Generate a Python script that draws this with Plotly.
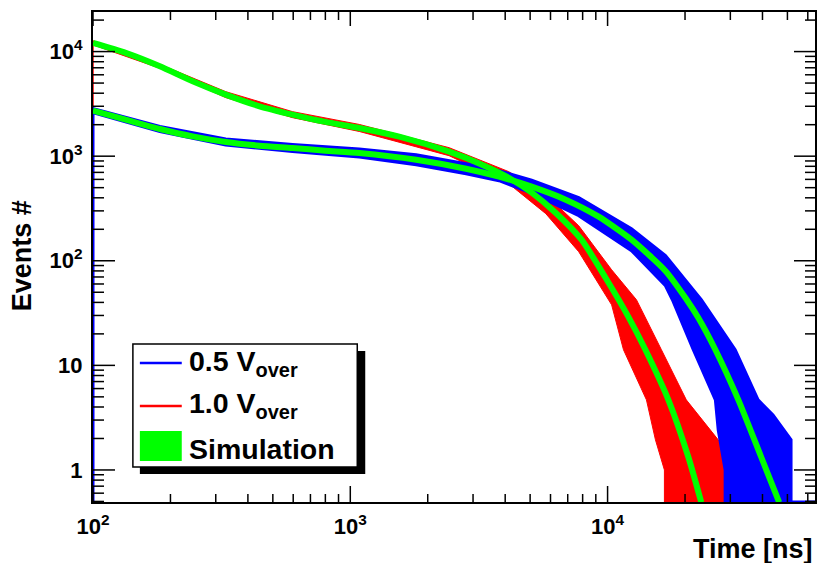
import math
import plotly.graph_objects as go

# ---------------- data ----------------
# Simulation curves (green)
sim_05_t = [100, 134, 182, 244, 328, 444, 596, 800, 1084, 1803, 2818, 3784, 5070,
            6870, 9230, 12390, 16790, 20060, 22520, 26240, 32230, 39540, 46450]
sim_05_n = [2725, 2234, 1820, 1546, 1367, 1260, 1197, 1129, 1073, 926, 759, 637, 511,
            384, 264, 159, 80, 44.3, 28.5, 14.1, 4.68, 1.33, 0.49]

sim_10_t = [100, 134, 182, 244, 328, 444, 596, 800, 1084, 1549, 2421, 3251, 4130,
            5070, 6280, 7920, 9820, 12050, 14030, 17230, 20600, 23130]
sim_10_n = [12110, 9720, 7230, 5200, 3880, 3000, 2497, 2125, 1862, 1537, 1105, 830, 622,
            448, 288, 159, 68.8, 29.1, 14.1, 4.68, 1.33, 0.49]

# Measured histograms: upper / lower envelope of the bin contents
red_up_t = [100, 182, 328, 596, 1084, 2421, 4130, 5754, 7726, 10370, 12950, 16190,
            20230, 26920, 30240]
red_up_n = [12680, 7550, 4141, 2666, 2011, 1206, 711, 428, 216, 82, 42.4, 14.1,
            4.68, 1.94, 1.0]
red_lo_t = [100, 182, 328, 596, 1084, 2421, 4130, 5754, 7726, 10370, 11530, 14160,
            15350, 16630]
red_lo_n = [11590, 6920, 3629, 2336, 1723, 1011, 546, 282, 122, 37.9, 14.1, 4.68,
            1.94, 1.0]

blue_up_t = [100, 182, 328, 596, 1084, 1803, 2818, 3784, 5070, 7726, 12390, 16790,
             23130, 31330, 38460, 43950, 51650]
blue_up_n = [2848, 1924, 1461, 1294, 1172, 1034, 848, 726, 589, 401, 202, 112,
             42.4, 14.1, 4.68, 3.36, 1.94]
blue_lo_t = [100, 182, 328, 596, 1084, 1803, 2818, 3784, 5070, 7726, 12390, 16790,
             17860, 21530, 26240, 26920, 28640]
blue_lo_n = [2608, 1723, 1280, 1109, 982, 829, 680, 583, 443, 270, 125, 57.7,
             42.4, 14.1, 4.68, 2.41, 1.0]

legend_labels = ["0.5 V<sub>over</sub>", "1.0 V<sub>over</sub>", "Simulation"]

x_range = [100, 64000]
y_range = [0.494, 23900]

x_tickvals = [100, 1000, 10000]
x_ticktext = ["10<sup>2</sup>", "10<sup>3</sup>", "10<sup>4</sup>"]
y_tickvals = [1, 10, 100, 1000, 10000]
y_ticktext = ["1", "10", "10<sup>2</sup>", "10<sup>3</sup>", "10<sup>4</sup>"]

# ---------------- styling ----------------
BLUE = "#0000ff"
RED = "#ff0000"
GREEN = "#00ff00"
FONT = "Liberation Sans, Arial, sans-serif"
W, H = 821, 563
ML, MR, MT, MB = 93, 4, 12, 61
PW, PH = W - ML - MR, H - MT - MB
FLOOR = y_range[0]


def px(xp):
    return (xp - ML) / PW


def py(yp):
    return (H - MB - yp) / PH


def band(up_t, up_n, lo_t, lo_n, extend_to=None):
    xs = [up_t[0]] + up_t + [up_t[-1]]
    ys = [FLOOR] + up_n + [FLOOR]
    if extend_to is not None:
        xs += [extend_to]
        ys += [FLOOR]
    xs += [lo_t[-1]] + lo_t[::-1] + [lo_t[0]]
    ys += [FLOOR] + lo_n[::-1] + [FLOOR]
    return xs, ys


fig = go.Figure()

rx, ry = band(red_up_t, red_up_n, red_lo_t, red_lo_n)
fig.add_trace(go.Scatter(x=rx, y=ry, mode="lines", fill="toself", fillcolor=RED,
                         line=dict(color=RED, width=1), showlegend=False,
                         hoverinfo="skip"))
bx, by = band(blue_up_t, blue_up_n, blue_lo_t, blue_lo_n, extend_to=x_range[1])
fig.add_trace(go.Scatter(x=bx, y=by, mode="lines", fill="toself", fillcolor=BLUE,
                         line=dict(color=BLUE, width=3), showlegend=False,
                         hoverinfo="skip"))
for t, n in [(sim_10_t, sim_10_n), (sim_05_t, sim_05_n)]:
    fig.add_trace(go.Scatter(x=t, y=n, mode="lines",
                             line=dict(color=GREEN, width=6, shape="spline",
                                       smoothing=0.6),
                             showlegend=False, hoverinfo="skip"))

# ---------------- ticks (ROOT style, inside, all four sides) ----------------
shapes = []
tick_line = dict(color="black", width=1.5)


def decade_ticks(lo, hi):
    out = []
    e = math.floor(math.log10(lo)) - 1
    while 10 ** e <= hi * 10:
        for k in range(1, 10):
            v = k * 10.0 ** e
            if lo * 0.999 <= v <= hi * 1.001:
                out.append((v, k == 1))
        e += 1
    return out


for v, major in decade_ticks(*y_range):
    L = 22 if major else 11
    R = 21 if major else 10
    shapes.append(dict(type="line", xref="paper", xsizemode="pixel", xanchor=0,
                       x0=0, x1=L, yref="y", y0=v, y1=v, line=tick_line))
    shapes.append(dict(type="line", xref="paper", xsizemode="pixel", xanchor=1,
                       x0=-R, x1=0, yref="y", y0=v, y1=v, line=tick_line))
for v, major in decade_ticks(*x_range):
    B = 16 if major else 8
    T = 14 if major else 8
    shapes.append(dict(type="line", yref="paper", ysizemode="pixel", yanchor=0,
                       y0=0, y1=B, xref="x", x0=v, x1=v, line=tick_line))
    shapes.append(dict(type="line", yref="paper", ysizemode="pixel", yanchor=1,
                       y0=-T, y1=0, xref="x", x0=v, x1=v, line=tick_line))

# ---------------- legend box (ROOT style with shadow) ----------------
shapes.append(dict(type="rect", xref="paper", yref="paper",
                   x0=px(140), x1=px(366), y0=py(351), y1=py(474),
                   fillcolor="black", line=dict(width=0), layer="above"))
shapes.append(dict(type="rect", xref="paper", yref="paper",
                   x0=px(133), x1=px(358), y0=py(344), y1=py(467),
                   fillcolor="white", line=dict(color="black", width=1.5),
                   layer="above"))
shapes.append(dict(type="line", xref="paper", yref="paper",
                   x0=px(140), x1=px(182), y0=py(363), y1=py(363),
                   line=dict(color=BLUE, width=2.5), layer="above"))
shapes.append(dict(type="line", xref="paper", yref="paper",
                   x0=px(140), x1=px(182), y0=py(406), y1=py(406),
                   line=dict(color=RED, width=2.5), layer="above"))
shapes.append(dict(type="rect", xref="paper", yref="paper",
                   x0=px(140), x1=px(182), y0=py(431), y1=py(461),
                   fillcolor=GREEN, line=dict(width=0), layer="above"))

annotations = []
for lab, yc in zip(legend_labels, [362.5, 404.5, 449]):
    annotations.append(dict(text="<b>" + lab + "</b>", xref="paper", yref="paper",
                            x=px(187), y=py(yc), xanchor="left", yanchor="middle",
                            showarrow=False,
                            font=dict(family=FONT, size=28.5, color="black")))

annotations.append(dict(text="<b>Time [ns]</b>", xref="paper", yref="paper",
                        x=1.0, y=py(549), xanchor="right", yanchor="middle",
                        showarrow=False, font=dict(family=FONT, size=27, color="black")))
annotations.append(dict(text="<b>Events #</b>", xref="paper", yref="paper",
                        x=px(22), y=py(256), xanchor="center", yanchor="middle",
                        textangle=-90, showarrow=False,
                        font=dict(family=FONT, size=27, color="black")))

axis_common = dict(type="log", showgrid=False, zeroline=False, showline=True,
                   mirror=True, linecolor="black", linewidth=2, ticks="",
                   layer="below traces",
                   tickfont=dict(family=FONT, size=22, color="black"))

fig.update_layout(
    width=W, height=H, autosize=False,
    margin=dict(l=ML, r=MR, t=MT, b=MB),
    paper_bgcolor="white", plot_bgcolor="white",
    showlegend=False,
    xaxis=dict(range=[math.log10(x_range[0]), math.log10(x_range[1])],
               tickvals=x_tickvals, ticktext=["<b>" + s + "</b>" for s in x_ticktext],
               ticklabelstandoff=4, **axis_common),
    yaxis=dict(range=[math.log10(y_range[0]), math.log10(y_range[1])],
               tickvals=y_tickvals, ticktext=["<b>" + s + "</b>" for s in y_ticktext],
               ticklabelstandoff=4, **axis_common),
    shapes=shapes,
    annotations=annotations,
)

fig.write_html("out.html")
